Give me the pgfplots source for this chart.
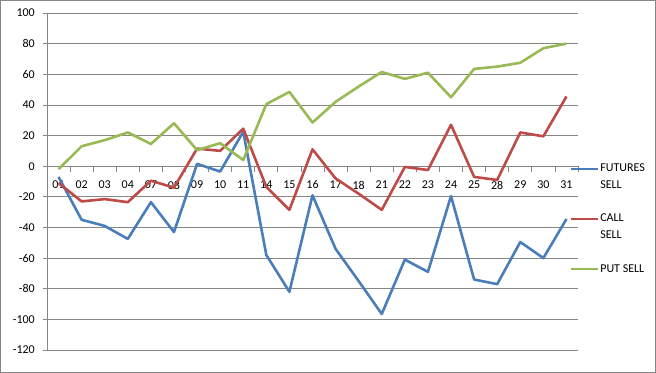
\documentclass[border=0pt]{standalone}
\usepackage{fontspec}
\setmainfont{Carlito}
\usepackage{pgfplots}
\pgfplotsset{compat=1.18}
\definecolor{fut}{HTML}{4A7EBB}
\definecolor{cal}{HTML}{BE4B48}
\definecolor{put}{HTML}{98B954}
\definecolor{gridc}{HTML}{868686}
\pgfplotstableread{
x fut cal put
0 -7 -11 -2
1 -35 -23 13
2 -39 -21.5 17
3 -47.5 -23.5 22
4 -23.5 -9.5 14.5
5 -43 -14 28
6 1.5 11.5 10.5
7 -3.5 10 15
8 22.5 24.5 4
9 -58 -13.5 40.5
10 -82 -28.5 48.5
11 -19 11 28.5
12 -54 -8 42
13 -75 -18 52
14 -96.5 -28.5 61.5
15 -61 -0.5 57
16 -69 -2.5 61
17 -19.5 27 45
18 -74 -7 63.5
19 -77 -9 65
20 -49.5 22 67.5
21 -60 19.5 77
22 -34.5 45.5 80
}\data
\begin{document}
\fontsize{12bp}{14bp}\selectfont
\begin{tikzpicture}
\begin{axis}[name=ax, at={(0,0)}, anchor=south west,
  scale only axis, width=531bp, height=337bp,
  xmin=-0.5, xmax=22.5, ymin=-120, ymax=100,
  axis x line=middle, axis y line=left,
  axis line style={-, gridc, line width=0.75bp},
  hide obscured x ticks=false, hide obscured y ticks=false,
  xtick={0,...,22},
  xticklabels={01,02,03,04,07,08,09,10,11,14,15,16,17,18,21,22,23,24,25,28,29,30,31},
  minor xtick={0.5,1.5,...,22.5},
  major x tick style={draw=none},
  minor x tick style={gridc, line width=0.75bp},
  minor tick length=6bp, major tick length=4bp,
  y tick style={gridc, line width=0.75bp},
  tick align=outside,
  ytick={-120,-100,...,100},
  yticklabels={-120,-100,-80,-60,-40,-20,0,20,40,60,80,100},
  ymajorgrids, major grid style={gridc, line width=0.75bp},
  xticklabel style={yshift=-6.5bp, font=\fontsize{12bp}{14bp}\selectfont},
  yticklabel style={xshift=-4bp, font=\fontsize{12bp}{14bp}\selectfont},
  legend image code/.code={\draw[#1] (0bp,0bp) -- (27bp,0bp);},
  legend cell align=left,
  legend style={at={(0.984,0.389)}, anchor=west, draw=none, fill=none,
    inner sep=0pt, row sep=0pt, column sep=1bp,
    font=\fontsize{12bp}{14bp}\selectfont,
    nodes={inner sep=0pt, text height=8bp, text depth=2bp, minimum height=16.7bp}},
  every axis plot/.append style={line width=2.6bp, line join=round, no markers},
]
\addplot[fut] table[x=x,y=fut]{\data};
\addlegendentry{FUTURES}
\addlegendimage{empty legend}\addlegendentry{SELL}
\addlegendimage{empty legend}\addlegendentry{}
\addplot[cal] table[x=x,y=cal]{\data};
\addlegendentry{CALL}
\addlegendimage{empty legend}\addlegendentry{SELL}
\addlegendimage{empty legend}\addlegendentry{}
\addplot[put] table[x=x,y=put]{\data};
\addlegendentry{PUT SELL}
\end{axis}
\draw[gridc, line width=1bp] (ax.south west) ++(-46.5bp,-22.5bp) rectangle ++(655bp,372bp);
\end{tikzpicture}
\end{document}
